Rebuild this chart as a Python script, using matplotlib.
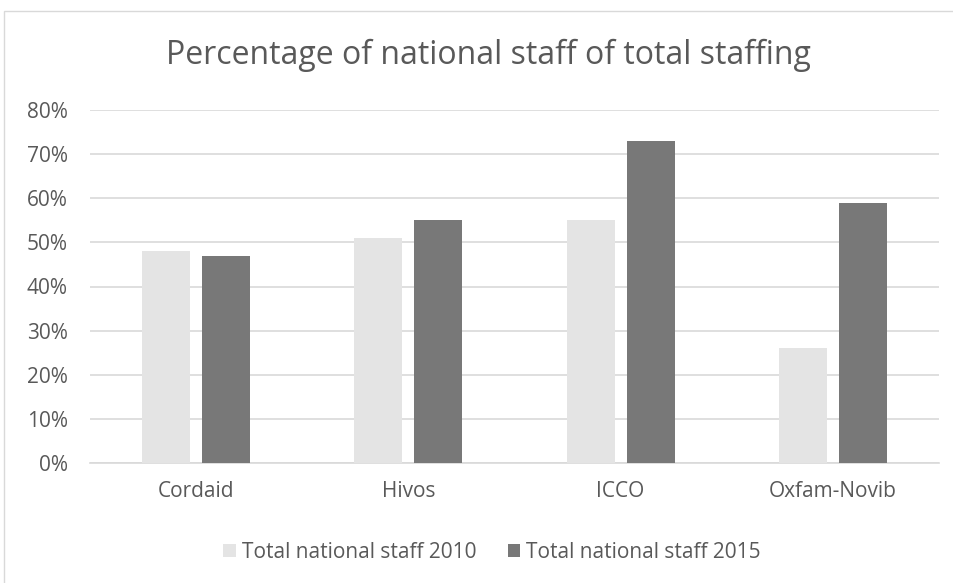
import matplotlib.pyplot as plt
import numpy as np
from matplotlib.patches import Rectangle

categories = ['Cordaid', 'Hivos', 'ICCO', 'Oxfam-Novib']
staff_2010 = [48, 51, 55, 26]
staff_2015 = [47, 55, 73, 59]
series_names = ['Total national staff 2010', 'Total national staff 2015']
y_ticks = [0, 10, 20, 30, 40, 50, 60, 70, 80]

plt.rcParams['font.family'] = ['Open Sans', 'DejaVu Sans']

W, H = 954, 583
fig = plt.figure(figsize=(W / 100, H / 100), dpi=100)
fig.patch.set_facecolor('white')

# chart border (goes past right/bottom edge like the reference)
fig.patches.append(Rectangle((4 / W, -0.1), 1.2, 1 - 11 / H + 0.1,
                             transform=fig.transFigure, fill=False,
                             edgecolor='#d9d9d9', linewidth=1))

ax = fig.add_axes([90 / W, 1 - 463 / H, (939 - 90) / W, (463 - 110) / H])
x = np.arange(len(categories))
w = 0.226
off = 0.1415
ax.bar(x - off, staff_2010, w, color='#e4e4e4', label=series_names[0], zorder=3)
ax.bar(x + off, staff_2015, w, color='#787878', label=series_names[1], zorder=3)

ax.set_xlim(-0.5, len(categories) - 0.5)
ax.set_ylim(0, 80)
ax.set_yticks(y_ticks)
ax.set_yticklabels([f'{t}%' for t in y_ticks])
ax.set_xticks(x)
ax.set_xticklabels(categories)
ax.yaxis.grid(True, color='#d9d9d9', linewidth=1.2, zorder=0)
for s in ['top', 'right', 'left']:
    ax.spines[s].set_visible(False)
ax.spines['bottom'].set_color('#d9d9d9')
ax.spines['bottom'].set_linewidth(1.2)
ax.tick_params(axis='both', length=0, labelsize=15, labelcolor='#595959')
ax.tick_params(axis='y', pad=16)
ax.tick_params(axis='x', pad=13)

fig.text(488 / W, 1 - 64 / H, 'Percentage of national staff of total staffing',
         ha='center', va='baseline', fontsize=23, color='#595959')

fig.legend(loc='center', bbox_to_anchor=(492 / W, 1 - 552 / H), ncol=2,
           frameon=False, fontsize=15, labelcolor='#595959',
           handlelength=0.6, handleheight=0.6, handletextpad=0.3,
           columnspacing=1.5)

fig.savefig('out.png', dpi=100, facecolor='white')
